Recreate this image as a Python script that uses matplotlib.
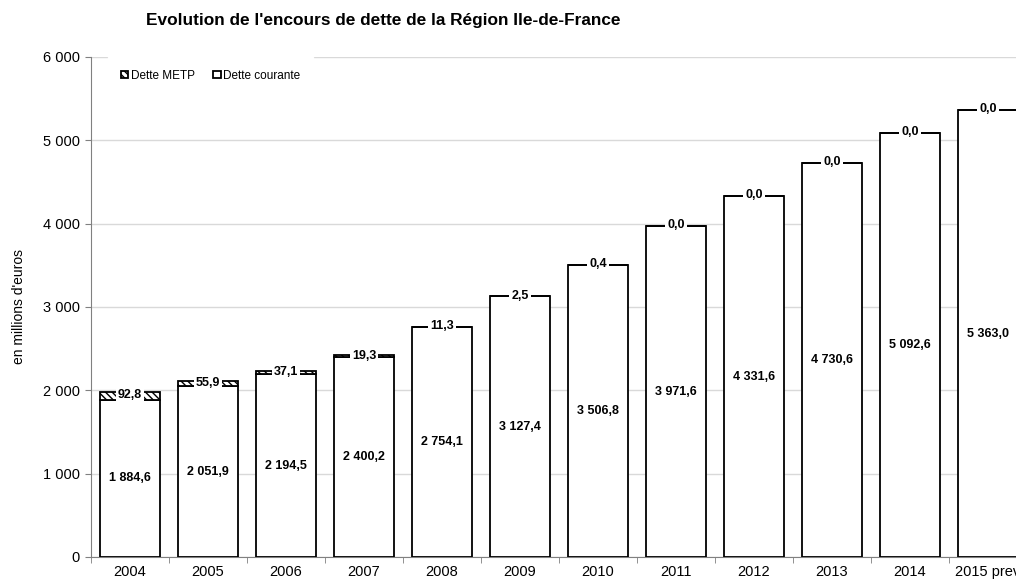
import numpy as np
import matplotlib.pyplot as plt

plt.rcParams['font.family'] = ['Liberation Sans', 'DejaVu Sans']

years = ["2004", "2005", "2006", "2007", "2008", "2009", "2010", "2011",
         "2012", "2013", "2014", "2015 prev"]
dette_courante = [1884.6, 2051.9, 2194.5, 2400.2, 2754.1, 3127.4, 3506.8,
                  3971.6, 4331.6, 4730.6, 5092.6, 5363.0]
dette_metp = [92.8, 55.9, 37.1, 19.3, 11.3, 2.5, 0.4, 0.0, 0.0, 0.0, 0.0, 0.0]


def fr(v):
    s = "{:,.1f}".format(v)
    return s.replace(",", " ").replace(".", ",")


fig = plt.figure(figsize=(10.16, 5.8), dpi=100)
ax = fig.add_axes([91 / 1016, 1 - 557 / 580, 936 / 1016, 500 / 580])

x = np.arange(len(years))
w = 0.77
ax.bar(x, dette_courante, w, color="white", edgecolor="black", linewidth=1.3,
       label="Dette courante", zorder=3)
ax.bar(x, dette_metp, w, bottom=dette_courante, color="white", edgecolor="black",
       hatch="\\\\\\\\\\", linewidth=1.3, label="Dette METP", zorder=3)

for i in range(len(years)):
    ax.text(x[i], dette_courante[i] / 2, fr(dette_courante[i]), ha="center",
            va="center", fontsize=9, fontweight="bold", zorder=5)
    ax.text(x[i], dette_courante[i] + dette_metp[i] / 2 + 8, fr(dette_metp[i]),
            ha="center", va="center", fontsize=9, fontweight="bold", zorder=5,
            bbox=dict(facecolor="white", edgecolor="none", pad=1.5))

ax.set_xlim(-0.5, len(years) - 0.5)
ax.set_ylim(0, 6000)
ax.set_yticks(np.arange(0, 6001, 1000))
ax.set_yticklabels([fr(v)[:-2] for v in np.arange(0, 6001, 1000)], fontsize=10.5)
ax.set_xticks(x)
ax.set_xticklabels(years, fontsize=10.5)
ax.set_xticks(np.arange(-0.5, len(years), 1), minor=True)
ax.tick_params(axis="x", which="major", length=0, pad=6)
ax.tick_params(axis="x", which="minor", length=4, color="#808080")
ax.tick_params(axis="y", length=4, color="#808080", pad=4)

ax.grid(axis="y", color="#d9d9d9", linewidth=1, zorder=0)
ax.set_axisbelow(True)
for s in ["top", "right"]:
    ax.spines[s].set_visible(False)
ax.spines["left"].set_color("#808080")
ax.spines["bottom"].set_color("#808080")

ax.set_ylabel("en millions d'euros", fontsize=10, labelpad=12)

h, l = ax.get_legend_handles_labels()
leg = ax.legend(h[::-1], l[::-1], loc="upper left", bbox_to_anchor=(0.012, 1.012),
                ncol=2, fontsize=8.5, frameon=True, fancybox=False, edgecolor="white",
                framealpha=1, handlelength=0.6, handleheight=0.6, handletextpad=0.2,
                columnspacing=1.6, borderpad=1.1)
leg.set_zorder(6)

fig.text(383 / 1016, 1 - 20 / 580, "Evolution de l'encours de dette de la Région Ile-de-France",
         ha="center", va="center", fontsize=12.4, fontweight="bold")

fig.savefig("out.png", dpi=100)
